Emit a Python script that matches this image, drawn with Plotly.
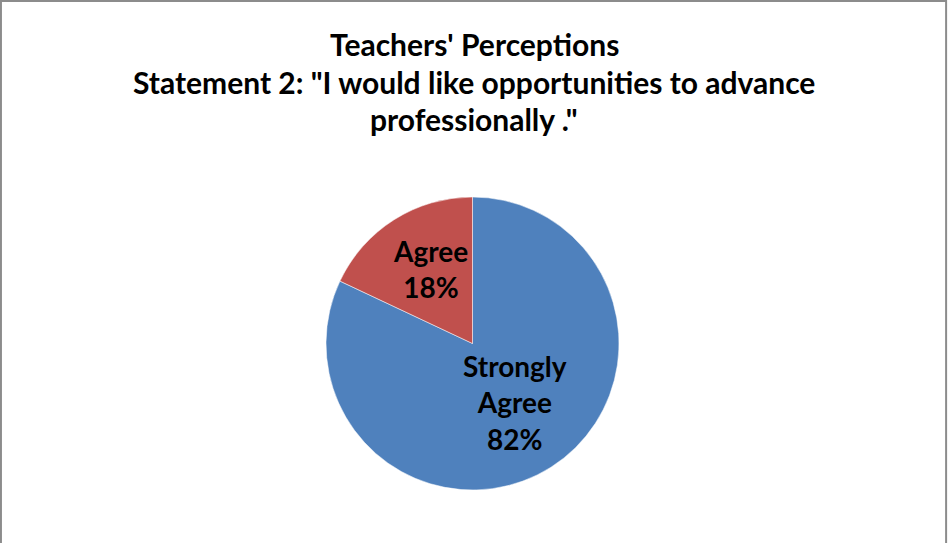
import math
import plotly.graph_objects as go

labels = ["Strongly Agree", "Agree"]
display_labels = ["Strongly<br>Agree", "Agree"]
values = [82, 18]
colors = ["#4F81BD", "#C0504D"]
title_lines = ["Teachers' Perceptions",
               "Statement 2: \"I would like opportunities to advance",
               "professionally .\""]
title_y_px = [44, 81.5, 119]

W, H = 948, 543
CX, CY, R = 472.5, 343.5, 146.5
LABEL_FRAC = 0.54
LABEL_DY = -8  # vertical text offset (px)

fig = go.Figure(go.Pie(
    labels=labels,
    values=values,
    sort=False,
    direction="clockwise",
    rotation=0,
    marker=dict(colors=colors, line=dict(color="white", width=0.5)),
    textinfo="none",
    hoverinfo="label+percent",
    showlegend=False,
    domain=dict(x=[(CX - R) / W, (CX + R) / W],
                y=[1 - (CY + R) / H, 1 - (CY - R) / H]),
))

annotations = [
    dict(text=t, x=0.5, xref="paper", xanchor="center",
         y=1 - yp / H, yref="paper", yanchor="middle", showarrow=False,
         font=dict(family="Lato", size=30, color="black", weight="bold"))
    for t, yp in zip(title_lines, title_y_px)
]

# slice labels placed at each slice's mid-angle (clockwise from 12 o'clock)
total = sum(values)
cum = 0
for lab, v in zip(display_labels, values):
    mid = (cum + v / 2) / total * 2 * math.pi
    cum += v
    px = CX + LABEL_FRAC * R * math.sin(mid)
    py = CY - LABEL_FRAC * R * math.cos(mid) + LABEL_DY
    annotations.append(dict(
        text=f"{lab}<br>{round(100 * v / total)}%",
        x=px / W, y=1 - py / H, xref="paper", yref="paper",
        xanchor="center", yanchor="middle", showarrow=False,
        font=dict(family="Lato", size=28, color="black", weight="bold")))

fig.update_layout(
    width=W, height=H,
    margin=dict(l=0, r=0, t=0, b=0),
    paper_bgcolor="white",
    font=dict(family="Lato", color="black"),
    annotations=annotations,
    shapes=[dict(type="rect", xref="paper", yref="paper", x0=0.001, x1=0.998,
                 y0=-0.05, y1=0.998, line=dict(color="#8C8C8C", width=2))],
)

fig.write_html("out.html", config={"displayModeBar": False},
               post_script="document.body.style.margin='0';")
